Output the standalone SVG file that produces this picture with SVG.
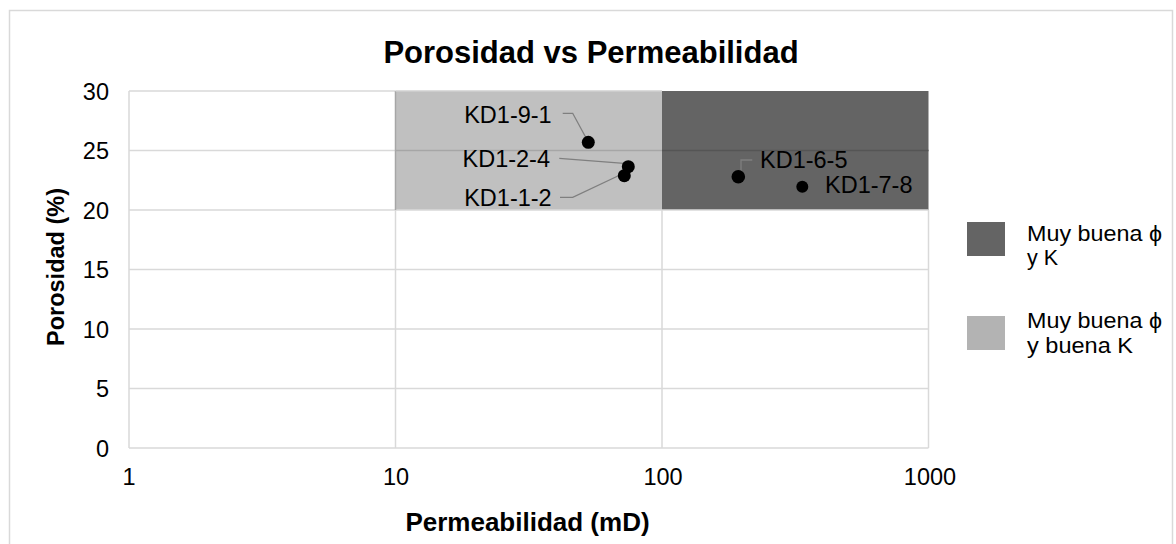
<svg xmlns="http://www.w3.org/2000/svg" width="1176" height="544" viewBox="0 0 1176 544">
<style>
text{font-family:"Liberation Sans",Arial,sans-serif;fill:#000}
.tick{font-size:23.5px}
.lbl{font-size:23.5px}
.leg{font-size:21.5px}
.ttl{font-size:31px;font-weight:bold}
.axt{font-size:26px;font-weight:bold}
.axy{font-size:23.5px;font-weight:bold}
.grid{stroke:#d9d9d9;stroke-width:1.5;fill:none}
.lead{stroke:#7f7f7f;stroke-width:1.3;fill:none}
.pt{fill:#000}
</style>
<rect x="9.5" y="10.5" width="1163" height="545" fill="#fff" stroke="#d9d9d9" stroke-width="1.5"/>
<g id="title"><text class="ttl" x="591" y="63" text-anchor="middle">Porosidad vs Permeabilidad</text></g>
<g id="plot-bg">
<rect x="129" y="91" width="799.5" height="357" fill="#fff"/>
</g>
<g id="zone-light"><rect x="395.5" y="91" width="266.5" height="119" fill="#c0c0c0"/></g>
<g id="zone-dark"><rect x="662" y="91" width="266.5" height="119" fill="#646464"/></g>
<g id="gridlines">
<path class="grid" d="M129 91H395.5M129 150.5H395.5M129 210H928.5M129 269.5H928.5M129 329H928.5M129 388.5H928.5M129 448H928.5"/>
<path class="grid" d="M129 91V448M395.5 210V448M662 210V448M928.5 210V448"/>
<path d="M395.5 150.5H662M395.5 91V210" stroke="#a6a6a6" stroke-width="1.5"/>
<path d="M662 150.5H928.5" stroke="#555" stroke-width="1.5"/>
<path d="M395.5 91H662" stroke="#d0d0d0" stroke-width="1.5"/>
</g>
<g id="y-ticks" text-anchor="end">
<text class="tick" x="109" y="99.5">30</text>
<text class="tick" x="109" y="159">25</text>
<text class="tick" x="109" y="218.5">20</text>
<text class="tick" x="109" y="278">15</text>
<text class="tick" x="109" y="337.5">10</text>
<text class="tick" x="109" y="397">5</text>
<text class="tick" x="109" y="456.5">0</text>
</g>
<g id="x-ticks" text-anchor="middle">
<text class="tick" x="129" y="485">1</text>
<text class="tick" x="396" y="485">10</text>
<text class="tick" x="663" y="485">100</text>
<text class="tick" x="930" y="485">1000</text>
</g>
<g id="axis-titles">
<text class="axt" x="527.5" y="531" text-anchor="middle">Permeabilidad (mD)</text>
<text class="axy" transform="translate(64 267) rotate(-90)" text-anchor="middle">Porosidad (%)</text>
</g>
<g id="connectors">
<path class="lead" d="M562.7 113.3H572.7L585.7 137.3"/>
<path class="lead" d="M559.3 158.3L624 163.3"/>
<path class="lead" d="M560 197.3H572.7L620 175"/>
<path class="lead" d="M752.3 160H741V171"/>
</g>
<g id="KD1-9-1"><circle class="pt" cx="588.3" cy="142.3" r="6.5"/><text class="lbl" x="551.7" y="122.7" text-anchor="end">KD1-9-1</text></g>
<g id="KD1-2-4"><circle class="pt" cx="628.3" cy="166.7" r="6.5"/><text class="lbl" x="550" y="167.3" text-anchor="end">KD1-2-4</text></g>
<g id="KD1-1-2"><circle class="pt" cx="624.3" cy="175.7" r="6.5"/><text class="lbl" x="551.7" y="206" text-anchor="end">KD1-1-2</text></g>
<g id="KD1-6-5"><circle class="pt" cx="738.3" cy="176.7" r="6.8"/><text class="lbl" x="760" y="168.3">KD1-6-5</text></g>
<g id="KD1-7-8"><circle class="pt" cx="802.3" cy="186.7" r="6"/><text class="lbl" x="825" y="193.3">KD1-7-8</text></g>
<g id="legend">
<g id="legend-dark"><rect x="967" y="222" width="38" height="34" fill="#646464"/><text class="leg" x="1027" y="241" textLength="135" lengthAdjust="spacingAndGlyphs">Muy buena ϕ</text><text class="leg" x="1027" y="265">y K</text></g>
<g id="legend-light"><rect x="967" y="316" width="38" height="34" fill="#b3b3b3"/><text class="leg" x="1027" y="328" textLength="135" lengthAdjust="spacingAndGlyphs">Muy buena ϕ</text><text class="leg" x="1027" y="353" textLength="106" lengthAdjust="spacingAndGlyphs">y buena K</text></g>
</g>
</svg>
